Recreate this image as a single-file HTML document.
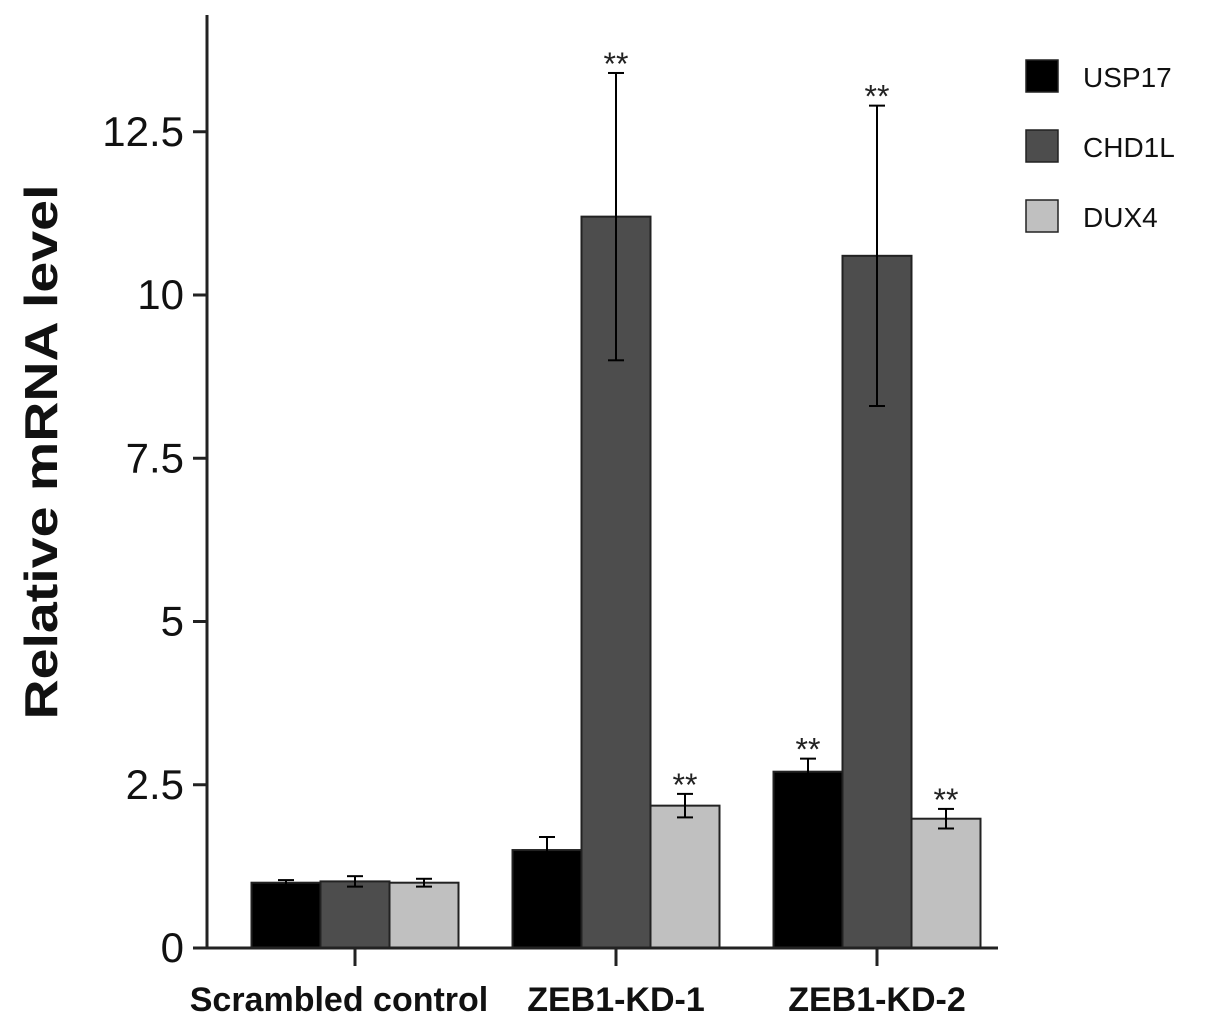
<!DOCTYPE html>
<html><head><meta charset="utf-8"><style>
body{margin:0;background:#fff;width:1205px;height:1025px;overflow:hidden}
svg text{font-family:"Liberation Sans",sans-serif}
</style></head><body>
<svg id="chart" width="1205" height="1025" viewBox="0 0 1205 1025" xmlns="http://www.w3.org/2000/svg"></svg>
<script>
const categories=["Scrambled control","ZEB1-KD-1","ZEB1-KD-2"];
const seriesNames=["USP17","CHD1L","DUX4"];
const usp17=[1.0,1.5,2.7];
const chd1l=[1.02,11.2,10.6];
const dux4=[1.0,2.18,1.98];
const usp17Err=[0.04,0.2,0.2];
const chd1lErr=[0.08,2.2,2.3];
const dux4Err=[0.06,0.18,0.15];
const sig=[[false,false,false],[false,true,true],[true,true,true]];
const yTicks=[0,2.5,5,7.5,10,12.5];
const yTickLabels=["0","2.5","5","7.5","10","12.5"];
const colors=["#000000","#4d4d4d","#c0c0c0"];
const NS="http://www.w3.org/2000/svg";
const svg=document.getElementById('chart');
const X0=207,Y0=948,SCALE=65.3,GROUP0=355,GSTEP=261,BW=69;
const y=v=>Y0-v*SCALE;
const gx=i=>GROUP0+i*GSTEP;
function mk(tag,attrs,parent){const e=document.createElementNS(NS,tag);for(const k in attrs)e.setAttribute(k,attrs[k]);(parent||svg).appendChild(e);return e;}
const series=[usp17,chd1l,dux4],errs=[usp17Err,chd1lErr,dux4Err];
categories.forEach((c,i)=>{
  series.forEach((s,j)=>{
    const left=gx(i)-1.5*BW+j*BW;
    const b=mk('rect',{x:left,y:y(s[i]),width:BW,height:Y0-y(s[i]),fill:colors[j],stroke:'#222','stroke-width':2});
    
    
    const cx=left+BW/2,t=y(s[i]+errs[j][i]),bo=y(s[i]-errs[j][i]);
    const g=mk('g',{stroke:'#000','stroke-width':2});
    
    
    mk('line',{x1:cx,x2:cx,y1:t,y2:bo},g);
    mk('line',{x1:cx-8,x2:cx+8,y1:t,y2:t},g);
    mk('line',{x1:cx-8,x2:cx+8,y1:bo,y2:bo},g);
    if(sig[i][j]){
      const st=mk('text',{x:cx,y:t+2,'text-anchor':'middle','font-size':32,fill:'#222'});
      st.textContent='**';
      
      
    }
  });
  mk('line',{x1:gx(i),x2:gx(i),y1:Y0,y2:966,stroke:'#222','stroke-width':3});
  const lt=mk('text',{x:gx(i)+(i==0?-16:0),y:1011,'text-anchor':'middle','font-size':34,'font-weight':'bold',fill:'#111'});
  lt.textContent=c;
  
  
});
const ya=mk('line',{x1:X0,x2:X0,y1:15,y2:Y0+1,stroke:'#222','stroke-width':3});


const xa=mk('line',{x1:193,x2:998,y1:Y0,y2:Y0,stroke:'#222','stroke-width':3});


yTicks.forEach((v,k)=>{
  mk('line',{x1:193,x2:X0,y1:y(v),y2:y(v),stroke:'#222','stroke-width':3});
  const t=mk('text',{x:184,y:y(v)+14,'text-anchor':'end','font-size':42,fill:'#111'});
  t.textContent=yTickLabels[k];
  
  
});
const yt=mk('text',{x:0,y:0,transform:'translate(57,452) rotate(-90)','text-anchor':'middle','font-size':46,'font-weight':'bold',fill:'#111',textLength:535,lengthAdjust:'spacingAndGlyphs'});
yt.textContent='Relative mRNA level';


seriesNames.forEach((n,j)=>{
  const g=mk('g',{});
  
  
  mk('rect',{x:1026,y:60+j*70,width:32,height:32,fill:colors[j],stroke:'#222','stroke-width':1.5},g);
  const t=mk('text',{x:1083,y:87+j*70,'font-size':28,fill:'#111'},g);
  t.textContent=n;
});
</script>
</body></html>
